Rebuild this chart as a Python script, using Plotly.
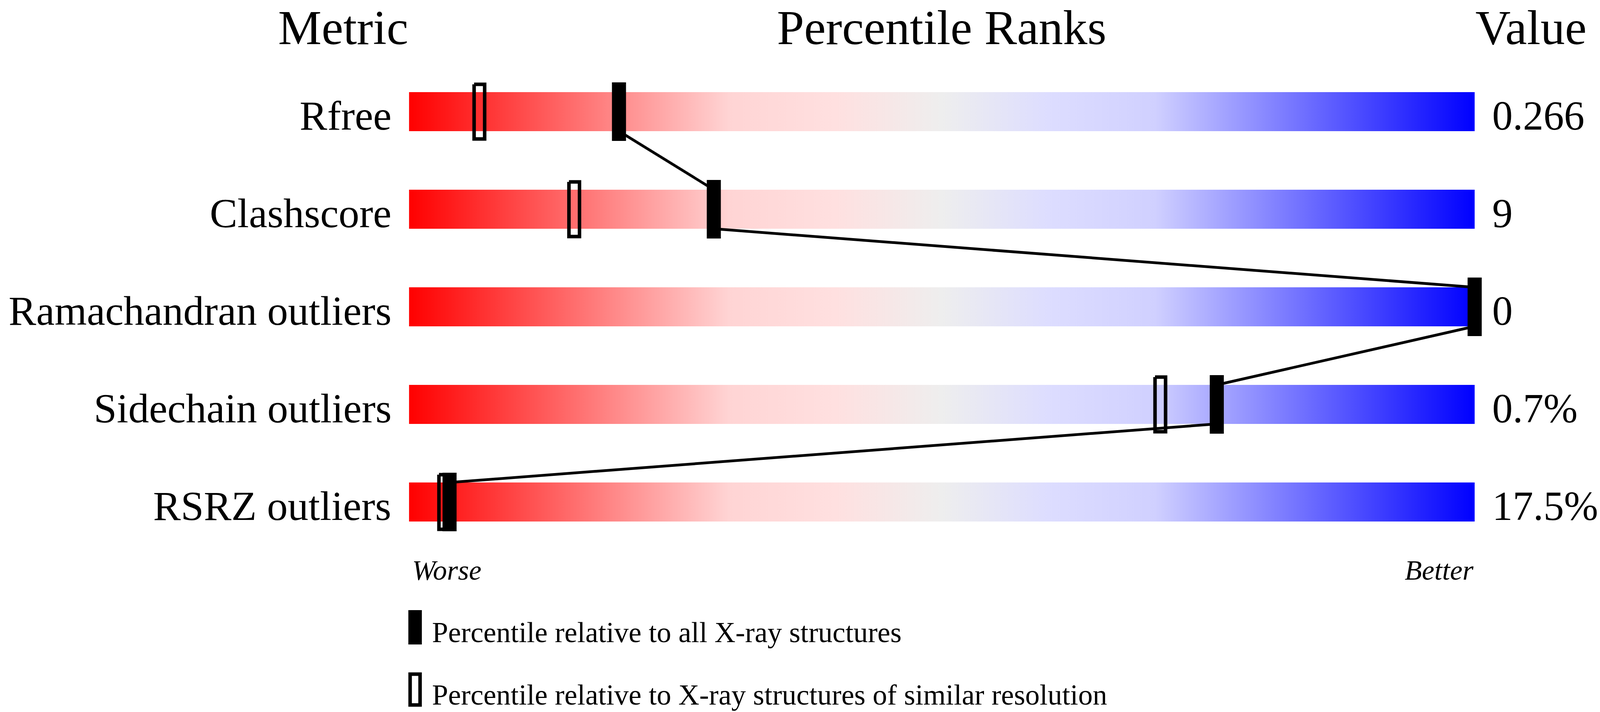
import plotly.graph_objects as go

# validation slider data
metrics = ["Rfree", "Clashscore", "Ramachandran outliers", "Sidechain outliers", "RSRZ outliers"]
values = ["0.266", "9", "0", "0.7%", "17.5%"]
pct_all = [19.7, 28.6, 100.0, 75.8, 3.8]       # percentile vs all X-ray structures
pct_similar = [6.6, 15.5, 100.0, 70.5, 3.3]    # percentile vs similar resolution
legend_labels = ["Percentile relative to all X-ray structures",
                 "Percentile relative to X-ray structures of similar resolution"]

W, H = 4096, 1824                 # the browser viewport
SX = W / 4506                     # horizontal squeeze of the reference layout
X0_PX, PX_PER_PCT = 1152 * SX, 30.01 * SX   # where percentile 0 sits, px per percent
Y0_PX, ROW_PX = 286, 250          # first row centre, row spacing
FONT = "Liberation Serif"

px_x = lambda px: (px * SX - X0_PX) / PX_PER_PCT   # reference px -> data x
px_y = lambda py: (py - Y0_PX) / ROW_PX            # reference px -> data y

GRAD = [[0.0, "#FF0000"], [0.30, "#FFD4D4"], [0.40, "#FFE0E0"], [0.50, "#EEEEEE"],
        [0.60, "#DDDDFF"], [0.70, "#D0D0FF"], [1.0, "#0000FF"]]

BAR_H = 0.2        # half height of gradient bar (rows)
MK_H = 0.3         # half height of marker
MK_W = 18 / PX_PER_PCT

fig = go.Figure()

# gradient bars
for i, m in enumerate(metrics):
    fig.add_trace(go.Scatter(x=[0, 100, 100, 0, 0],
                             y=[i - BAR_H, i - BAR_H, i + BAR_H, i + BAR_H, i - BAR_H],
                             mode="lines", line=dict(width=0), fill="toself",
                             fillgradient=dict(type="horizontal", colorscale=GRAD),
                             hoverinfo="skip", name=m))

# connecting line between the 'all structures' markers
lx, ly = [], []
for i in range(len(metrics) - 1):
    lx += [pct_all[i], pct_all[i + 1], None]
    ly += [i + BAR_H, i + 1 - BAR_H, None]
fig.add_trace(go.Scatter(x=lx, y=ly, mode="lines", line=dict(color="black", width=7),
                         hoverinfo="skip"))

# open markers (similar resolution)
ox, oy = [], []
hw, hh = 13.5 / PX_PER_PCT, 70 / ROW_PX
for i, p in enumerate(pct_similar):
    ox += [p - hw, p + hw, p + hw, p - hw, p - hw, None]
    oy += [i - hh, i - hh, i + hh, i + hh, i - hh, None]
fig.add_trace(go.Scatter(x=ox, y=oy, mode="lines", line=dict(color="black", width=9),
                         hoverinfo="skip"))

# filled markers (all structures)
fx, fy = [], []
for i, p in enumerate(pct_all):
    fx += [p - MK_W, p + MK_W, p + MK_W, p - MK_W, p - MK_W, None]
    fy += [i - MK_H, i - MK_H, i + MK_H, i + MK_H, i - MK_H, None]
fig.add_trace(go.Scatter(x=fx, y=fy, mode="lines", line=dict(color="black", width=0),
                         fill="toself", fillcolor="black", hoverinfo="skip"))

# row labels and values
for i, (m, v) in enumerate(zip(metrics, values)):
    fig.add_annotation(x=px_x(1104), y=i + 0.04, text=m, xanchor="right", yanchor="middle",
                       showarrow=False, font=dict(family=FONT, size=106, color="black"))
    fig.add_annotation(x=px_x(4200), y=i + 0.04, text=v, xanchor="left", yanchor="middle",
                       showarrow=False, font=dict(family=FONT, size=105, color="black"))

# column headers, hung from the top edge
for txt, x, anc in [("Metric", 0, "right"), ("Percentile Ranks", 50, "center"), ("Value", 100, "left")]:
    fig.add_annotation(x=x, y=px_y(0), text=txt, xanchor=anc, yanchor="top", showarrow=False,
                       font=dict(family=FONT, size=125, color="black"))

# worse / better
fig.add_annotation(x=px_x(1158), y=px_y(1461), text="<i>Worse</i>", xanchor="left", yanchor="middle",
                   showarrow=False, font=dict(family=FONT, size=72, color="black"))
fig.add_annotation(x=100, y=px_y(1461), text="<i>Better</i>", xanchor="right", yanchor="middle",
                   showarrow=False, font=dict(family=FONT, size=72, color="black"))

# legend
fig.add_shape(type="rect", x0=px_x(1150), x1=px_x(1188), y0=px_y(1563), y1=px_y(1651),
              fillcolor="black", line_width=0)
fig.add_shape(type="rect", x0=px_x(1155), x1=px_x(1183), y0=px_y(1727), y1=px_y(1806),
              fillcolor="rgba(0,0,0,0)", line=dict(color="black", width=9))
for txt, py in zip(legend_labels, [1620, 1780]):
    fig.add_annotation(x=px_x(1214), y=px_y(py), text=txt, xanchor="left", yanchor="middle",
                       showarrow=False, font=dict(family=FONT, size=74, color="black"))

fig.update_xaxes(range=[-X0_PX / PX_PER_PCT, (W - X0_PX) / PX_PER_PCT], visible=False, fixedrange=True)
fig.update_yaxes(range=[px_y(H), px_y(0)], visible=False, fixedrange=True)
fig.update_layout(width=W, height=H, autosize=False, margin=dict(l=0, r=0, t=0, b=0),
                  plot_bgcolor="white", paper_bgcolor="white", showlegend=False)

fig.write_html("out.html", config={"displayModeBar": False},
               post_script="document.body.style.margin='0';document.body.style.overflow='hidden';")
